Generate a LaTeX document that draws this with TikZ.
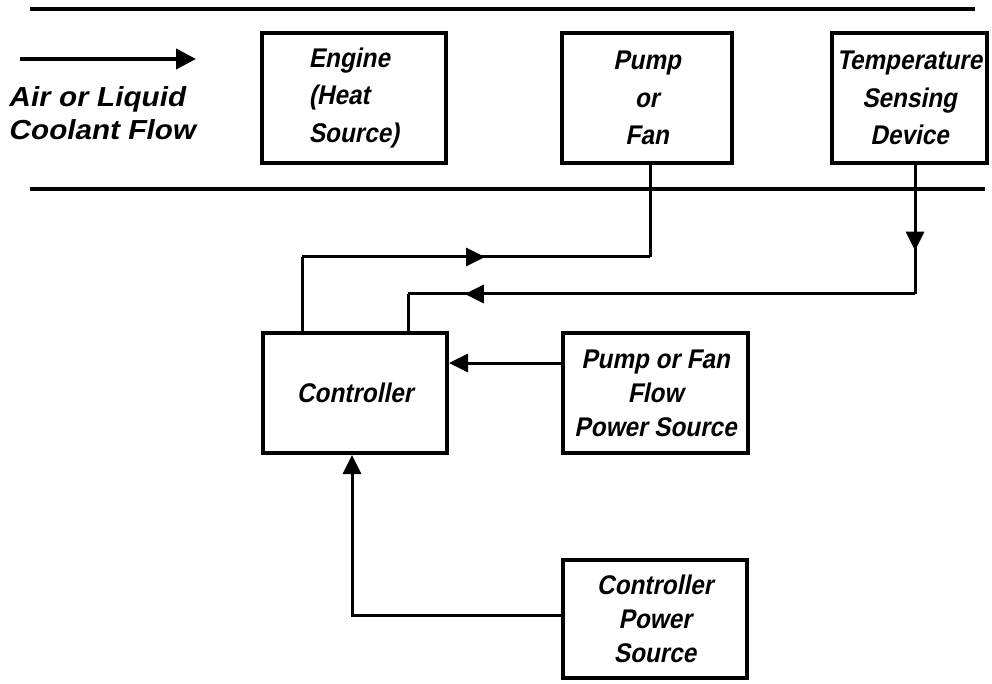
\documentclass[tikz,border=0pt]{standalone}
\usepackage{fontspec}
\newfontfamily\lett{Liberation Sans Bold}[FakeSlant=0.2,FakeStretch=0.9]
\newfontfamily\lettwide{Liberation Sans Bold}[FakeSlant=0.2,FakeStretch=1.08]
\usetikzlibrary{arrows.meta,decorations.markings}
\tikzset{
  box/.style={draw, line width=4pt, inner sep=0pt, align=center},
  topbox/.style={box, minimum height=130pt, font=\lett\fontsize{27}{37.5}\selectfont},
  lowbox/.style={box, font=\lett\fontsize{27}{34}\selectfont},
  conn/.style={line width=3pt},
  tip/.style={-{Triangle[length=19pt,width=18pt]}},
  midarrow/.style={postaction={decorate}, decoration={markings,
      mark=at position #1 with {\arrow{Triangle[length=19pt,width=18pt]}}}},
  chan/.style={line width=3.5pt},
}
\begin{document}
\begin{tikzpicture}[x=1pt,y=-1pt]
\fill[white] (0,0) rectangle (992,684);
\useasboundingbox (0,0) rectangle (992,684);

% channel lines
\coordinate (t1) at (30,9);  \coordinate (t2) at (975,9);
\coordinate (u1) at (30,189); \coordinate (u2) at (985,189);
\draw[chan] (t1) -- (t2);
\draw[chan] (u1) -- (u2);

% flow arrow and label
\coordinate (f1) at (20,59); \coordinate (f2) at (196,59);
\draw[line width=4pt, -{Triangle[length=20pt,width=20pt]}] (f1) -- (f2);
\node[anchor=north west, inner sep=0pt, align=left,
      font=\lettwide\fontsize{27.5}{33}\selectfont] (flowlbl) at (8,86)
      {Air or Liquid\\Coolant Flow};

% top boxes
\node[topbox, minimum width=184pt, align=left] (engine) at (354,98) {Engine\\(Heat\\Source)};
\node[topbox, minimum width=170pt] (pump) at (647,98) {Pump\\or\\Fan};
\node[topbox, minimum width=155pt] (temp) at (909.5,98) {Temperature\\Sensing\\Device};

% lower boxes
\node[lowbox, minimum width=184pt, minimum height=120pt] (ctrl) at (355,393) {Controller};
\node[lowbox, minimum width=185pt, minimum height=120pt] (pff) at (655.5,393) {Pump or Fan\\Flow\\Power Source};
\node[lowbox, minimum width=184pt, minimum height=118pt] (cps) at (655,619) {Controller\\Power\\Source};

% controller -> pump
\coordinate (a1) at (650,257); \coordinate (a2) at (302,257);
\draw[conn] (ctrl.north -| a2) -- (a2);
\draw[conn, midarrow=0.526] (a2) -- (a1);
\draw[conn] (a1) -- (pump.south -| a1);

% temperature sensor -> controller
\coordinate (b1) at (915,294); \coordinate (b2) at (408,294);
\draw[conn, midarrow=0.664] (temp.south -| b1) -- (b1);
\draw[conn, midarrow=0.888] (b1) -- (b2);
\draw[conn] (b2) -- (ctrl.north -| b2);

% pump/fan power source -> controller
\coordinate (c1) at (500,363);
\draw[conn, tip] (pff.west |- c1) -- (ctrl.east |- c1);

% controller power source -> controller
\coordinate (d1) at (352,615);
\draw[conn, tip] (cps.west |- d1) -- (d1) -- (ctrl.south -| d1);
\end{tikzpicture}
\end{document}
